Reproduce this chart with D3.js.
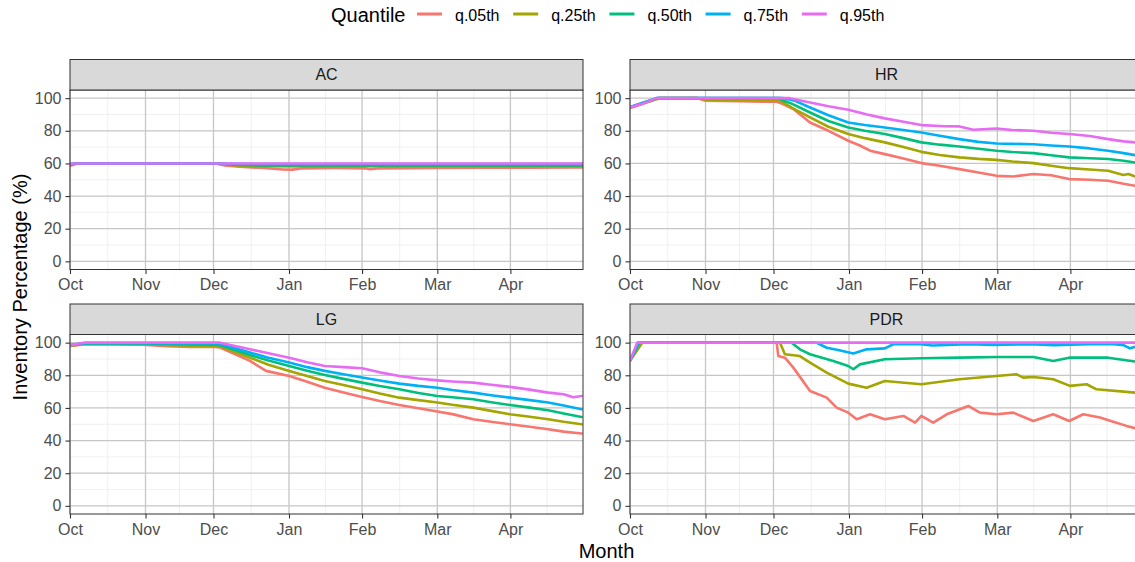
<!DOCTYPE html>
<html>
<head>
<meta charset="utf-8">
<script src="https://cdn.jsdelivr.net/npm/d3@7"></script>
<style>
  body { margin: 0; background: #fff; }
  svg { font-family: "Liberation Sans", Arial, sans-serif; }
</style>
</head>
<body>
<svg id="chart" width="1135" height="562"></svg>
<script>
// facets / quantiles / axis ticks
var facets = ["AC", "HR", "LG", "PDR"];
var quantiles = ["q.05th", "q.25th", "q.50th", "q.75th", "q.95th"];
var colors = ["#F8766D", "#A3A500", "#00BF7D", "#00B0F6", "#E76BF3"];
var monthLabels = ["Oct", "Nov", "Dec", "Jan", "Feb", "Mar", "Apr"];
var monthDays = [0, 31.2, 59.3, 90.5, 120.7, 151.8, 182];   // day of season where each month tick sits
var yTicks = [0, 20, 40, 60, 80, 100];

// series: [day since Oct 1, inventory %]
var ac_q05 = [[0,58.6],[3,60],[60,60],[64,58.8],[70,58],[80,57.2],[88,56.3],[92,56.2],[96,57],[110,57.2],[122,57],[124,56.4],[128,57],[150,57.2],[170,57.4],[190,57.4],[212,57.5]];
var ac_q25 = [[0,59.2],[3,60],[61,60],[66,59],[75,58.3],[100,58.2],[140,58.3],[212,58.4]];
var ac_q50 = [[0,59.5],[3,60],[62,60],[68,59.2],[80,58.8],[212,58.8]];
var ac_q75 = [[0,59.8],[3,60],[62,60],[70,59.6],[212,59.6]];
var ac_q95 = [[0,59.8],[3,60],[212,60]];

var hr_q05 = [[0,94],[12,100],[28,100],[31,98.5],[45,98.2],[55,97.8],[60.6,97.8],[63,96.5],[67.5,93.3],[74.4,85.1],[82,80],[90.2,73.9],[95,71],[99.2,67.8],[105.3,65.7],[113,63],[120.4,60.2],[128,58.6],[136.1,56.5],[144,54.5],[151.5,52.4],[158.4,52],[166.7,53.5],[174,52.8],[181.5,50.4],[190,50],[197.6,49.4],[204,47.5],[208.7,46.3],[212,45.8]];
var hr_q25 = [[0,94.2],[12,100],[28,100],[32,99],[60,98.8],[62,98.5],[67,94],[74.4,88.2],[82,82.5],[90.2,78],[97,75.5],[105.3,72.9],[113,70],[120.4,67.1],[128,65.2],[136.1,63.7],[144,62.8],[151.5,62.2],[158,61.2],[166.7,60.2],[174,58.6],[181.5,57.1],[190,56.3],[197.6,55.5],[203.9,52.9],[206,53.5],[208.7,52],[212,51.3]];
var hr_q50 = [[0,94.5],[11,100],[62,100],[62.5,99],[67,96.5],[74.4,91.2],[82,86],[90.2,82],[97,80],[105.3,78],[113,75.5],[120.4,72.9],[128,71.5],[136.1,70.4],[144,69],[151.5,67.8],[158,67],[166.7,66.3],[174,65],[181.5,63.7],[190,63.2],[197.6,62.7],[204,61.6],[208.7,60.6],[212,60.2]];
var hr_q75 = [[0,94.5],[11,100],[63.4,100],[68,98.5],[74.4,94.3],[82,89.5],[90.2,85.1],[97,83.5],[105.3,82],[113,80.5],[120.4,79],[128,77],[136.1,74.9],[144,73.2],[151.5,72.2],[158,72],[166.7,71.8],[174,71],[181.5,70.4],[190,69.2],[197.6,67.8],[204,66.3],[208.7,65.1],[212,64.5]];
var hr_q95 = [[0,94.5],[5,96.5],[11,100],[66,100],[74.4,97.3],[82,95],[90.2,92.9],[98,90],[105.3,87.6],[113,85.5],[120.4,83.5],[130,82.8],[136.1,82.7],[141.9,80.6],[151.5,81.4],[158,80.5],[166.7,80],[174,78.8],[181.5,78],[190,76.8],[197.6,74.9],[204,73.5],[208.7,72.9],[212,72.2]];

var lg_q05 = [[0,98],[6,99],[30,98.8],[40,97.8],[50,97.3],[60,97.3],[62,97],[74.4,88.8],[81,82.7],[90.6,79.6],[98,76],[105.3,72.4],[113,69.5],[120.7,66.7],[128,64.2],[136.1,61.8],[144,59.8],[151.8,57.8],[158,56.2],[166.7,53.1],[174,51.5],[181.8,50],[190,48.5],[197.6,46.9],[204,45.5],[211.4,44.3]];
var lg_q25 = [[0,98],[6,99.3],[30,99],[45,98.3],[60,98],[62,97.8],[74.4,90.8],[82,86.5],[90.6,82.7],[98,79.5],[105.3,76.5],[113,74],[120.7,71.4],[128,68.8],[136.1,66.3],[144,64.8],[151.8,63.3],[158,62],[166.7,60.2],[174,58.2],[181.8,56.1],[190,54.6],[197.6,53.1],[204,51.5],[211.4,50]];
var lg_q50 = [[0,98.5],[6,99.5],[30,99.5],[60,98.8],[62,98.5],[74.4,92.4],[82,89],[90.6,85.7],[98,82.8],[105.3,80.2],[113,77.8],[120.7,75.5],[128,73.4],[136.1,71.4],[144,69.2],[151.8,67.3],[158,66.5],[166.7,65.3],[174,63.5],[181.8,61.8],[190,60.2],[197.6,58.6],[204,56.6],[211.4,54.5]];
var lg_q75 = [[0,98.5],[6,99.8],[60,99.5],[62,99.2],[74.4,93.9],[82,90.8],[90.6,87.8],[98,85],[105.3,82.7],[113,80.6],[120.7,78.6],[128,76.8],[136.1,74.9],[144,73.5],[151.8,72.4],[158,71],[166.7,69.4],[174,67.8],[181.8,66.3],[190,64.8],[197.6,63.3],[204,61.5],[211.4,59.2]];
var lg_q95 = [[0,98.5],[6,100],[62,100],[74.4,95.9],[82,93.5],[90.6,90.8],[98,88],[105.3,85.7],[113,85],[120.7,84.3],[128,81.8],[136.1,79.6],[144,78],[151.8,76.9],[158,76.2],[166.7,75.5],[174,74.2],[181.8,72.9],[190,71.2],[197.6,69.4],[204,68.4],[208,66.5],[211.4,67.3]];

var pdr_q05 = [[0,89],[5,100],[60.6,100],[61.3,91.8],[64,90.8],[67.5,84.7],[74.4,70.4],[81.3,66.3],[85.4,60.2],[90.2,57.1],[93.7,53.1],[99.2,56.1],[105.3,53.1],[113,55.1],[117.8,51],[120.4,55.1],[125.3,51],[130.9,56.1],[139.8,61.2],[144.6,57.1],[151.5,56.1],[158.4,57.1],[166.7,52],[174.9,56.1],[181.5,52],[187.3,56.1],[194.2,54.1],[199.7,51.6],[205.2,49],[208.7,47.6],[212,47]];
var pdr_q25 = [[0,89],[5,100],[62,100],[64,92.9],[70.2,91.8],[74.4,87.8],[81.3,81.6],[90.2,74.9],[97.8,72.4],[105.3,76.5],[120.4,74.5],[136.1,77.6],[151.5,79.6],[159.8,80.6],[162.5,78.6],[166.7,79],[174.9,77.6],[181.8,73.5],[188.7,74.5],[192.8,71.4],[208.7,69.4],[212,69]];
var pdr_q50 = [[0,89],[4,100],[66.8,100],[70.2,95.9],[74.4,92.9],[84,88.8],[90.2,85.7],[92.3,83.7],[95,86.7],[105.3,89.8],[120.4,90.4],[136.1,90.8],[151.5,91.2],[166.7,91.2],[174.9,88.8],[181.5,90.8],[197.6,90.8],[208.7,88.4],[212,88]];
var pdr_q75 = [[0,89],[3.5,100],[77,100],[81.3,96.9],[86,95.5],[92.3,93.3],[97.8,95.9],[105.3,96.5],[108.8,99],[120,99],[125,98.3],[140,99],[150,98.6],[165,99],[175,98.5],[190,99],[200,99],[204,98.5],[206.6,96.5],[209,97.5],[212,97.5]];
var pdr_q95 = [[0,89],[3,100],[212,100]];

var seriesByFacet = {
  AC: [ac_q05, ac_q25, ac_q50, ac_q75, ac_q95],
  HR: [hr_q05, hr_q25, hr_q50, hr_q75, hr_q95],
  LG: [lg_q05, lg_q25, lg_q50, lg_q75, lg_q95],
  PDR: [pdr_q05, pdr_q25, pdr_q50, pdr_q75, pdr_q95]
};

var svg = d3.select("#chart");

var panelW = 513, panelH = 179.5, stripH = 30.5;
var colX = [70, 630];
var rowY = [90, 334.5];   // top of each panel (below strip)

var x = d3.scaleLinear().domain([0, 212]).range([0, panelW]);
var y = d3.scaleLinear().domain([-5, 105]).range([panelH, 0]);

// minor breaks halfway between majors, like ggplot
var xMinor = [];
for (var i = 0; i < monthDays.length - 1; i++) xMinor.push((monthDays[i] + monthDays[i+1]) / 2);
xMinor.push(monthDays[monthDays.length-1] + (monthDays[monthDays.length-1] - monthDays[monthDays.length-2]) / 2);
var yMinor = [10, 30, 50, 70, 90];

var line = d3.line()
  .x(function(d) { return x(d[0]); })
  .y(function(d) { return y(d[1]); });

var defs = svg.append("defs");
defs.append("clipPath").attr("id", "panelclip")
  .append("rect").attr("x", 0).attr("y", 0).attr("width", panelW).attr("height", panelH);

facets.forEach(function(f, fi) {
  var px = colX[fi % 2], py = rowY[Math.floor(fi / 2)];
  var g = svg.append("g").attr("transform", "translate(" + px + "," + py + ")");

  g.append("rect").attr("width", panelW).attr("height", panelH).attr("fill", "#fff");

  // grid
  g.selectAll(".xminor").data(xMinor).enter().append("line")
    .attr("x1", function(d) { return x(d); }).attr("x2", function(d) { return x(d); })
    .attr("y1", 0).attr("y2", panelH)
    .attr("stroke", "#ececec").attr("stroke-width", 0.8);
  g.selectAll(".yminor").data(yMinor).enter().append("line")
    .attr("y1", function(d) { return y(d); }).attr("y2", function(d) { return y(d); })
    .attr("x1", 0).attr("x2", panelW)
    .attr("stroke", "#ececec").attr("stroke-width", 0.8);
  g.selectAll(".xmajor").data(monthDays).enter().append("line")
    .attr("x1", function(d) { return x(d); }).attr("x2", function(d) { return x(d); })
    .attr("y1", 0).attr("y2", panelH)
    .attr("stroke", "#c6c6c6").attr("stroke-width", 1.3);
  g.selectAll(".ymajor").data(yTicks).enter().append("line")
    .attr("y1", function(d) { return y(d); }).attr("y2", function(d) { return y(d); })
    .attr("x1", 0).attr("x2", panelW)
    .attr("stroke", "#c6c6c6").attr("stroke-width", 1.3);

  // lines, q.05 first so q.95 sits on top
  var lg = g.append("g").attr("clip-path", "url(#panelclip)");
  seriesByFacet[f].forEach(function(s, si) {
    lg.append("path")
      .datum(s)
      .attr("fill", "none")
      .attr("stroke", colors[si])
      .attr("stroke-width", 2.6)
      .attr("stroke-linejoin", "round")
      .attr("stroke-linecap", "round")
      .attr("d", line);
  });

  g.append("rect").attr("width", panelW).attr("height", panelH)
    .attr("fill", "none").attr("stroke", "#333").attr("stroke-width", 1);

  // strip
  g.append("rect").attr("x", 0).attr("y", -stripH).attr("width", panelW).attr("height", stripH)
    .attr("fill", "#d9d9d9").attr("stroke", "#333").attr("stroke-width", 1);
  g.append("text").attr("x", panelW / 2).attr("y", -stripH / 2)
    .attr("dy", "0.35em").attr("text-anchor", "middle")
    .attr("font-size", 16).attr("fill", "#1a1a1a").text(f);

  // axes
  var ax = g.append("g").attr("transform", "translate(0," + panelH + ")")
    .call(d3.axisBottom(x).tickValues(monthDays)
      .tickFormat(function(d, i) { return monthLabels[i]; })
      .tickSize(4.5).tickPadding(5));
  var ay = g.append("g")
    .call(d3.axisLeft(y).tickValues(yTicks).tickSize(4.5).tickPadding(4));
  [ax, ay].forEach(function(a) {
    a.select(".domain").remove();
    a.selectAll(".tick line").attr("stroke", "#333").attr("stroke-width", 1.1);
    a.selectAll(".tick text").attr("font-size", 16).attr("fill", "#4d4d4d")
      .attr("font-family", "Liberation Sans, Arial, sans-serif");
  });
});

// axis titles
svg.append("text")
  .attr("transform", "translate(20,287) rotate(-90)")
  .attr("text-anchor", "middle").attr("dy", "0.35em")
  .attr("font-size", 20).attr("fill", "#000")
  .text("Inventory Percentage (%)");
svg.append("text")
  .attr("x", 606.5).attr("y", 558)
  .attr("text-anchor", "middle")
  .attr("font-size", 20).attr("fill", "#000")
  .text("Month");

// legend
var leg = svg.append("g");
leg.append("text").attr("x", 331).attr("y", 15).attr("dy", "0.35em")
  .attr("font-size", 20).attr("fill", "#000").text("Quantile");
var items = leg.selectAll(".item").data(quantiles).enter().append("g")
  .attr("transform", function(d, i) { return "translate(" + (417 + i * 96.2) + ",14)"; });
items.append("line").attr("x1", 0).attr("x2", 25).attr("y1", 0).attr("y2", 0)
  .attr("stroke", function(d, i) { return colors[i]; }).attr("stroke-width", 3);
items.append("text").attr("x", 38).attr("y", 1).attr("dy", "0.35em")
  .attr("font-size", 16).attr("fill", "#000").text(function(d) { return d; });
</script>
</body>
</html>
